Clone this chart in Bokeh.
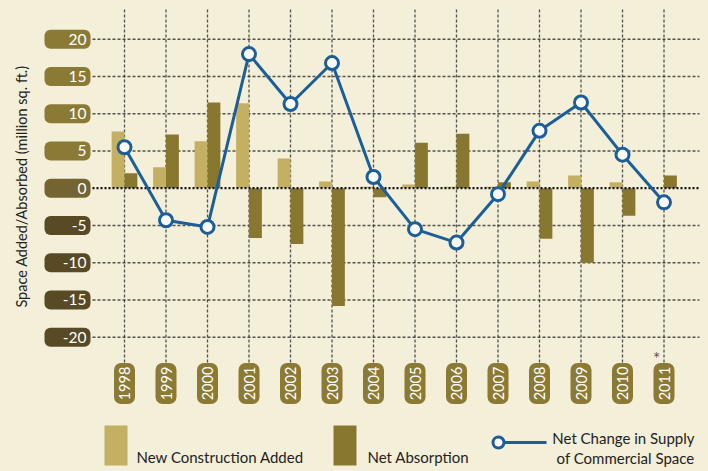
import numpy as np
from bokeh.plotting import figure
from bokeh.models import Range1d
from bokeh.core.properties import value
from bokeh.embed import file_html
from bokeh.resources import INLINE

# ---------------- data ----------------
years = ["1998", "1999", "2000", "2001", "2002", "2003", "2004",
         "2005", "2006", "2007", "2008", "2009", "2010", "2011"]
new_construction = [7.6, 2.8, 6.3, 11.4, 4.0, 0.9, 0.2, 0.5, 0.2, 0.2, 0.9, 1.7, 0.8, 0.0]
net_absorption = [2.0, 7.2, 11.5, -6.7, -7.5, -15.8, -1.2, 6.1, 7.3, 0.8, -6.8, -10.0, -3.7, 1.7]
net_change = [5.5, -4.3, -5.2, 18.0, 11.3, 16.8, 1.5, -5.5, -7.3, -0.8, 7.7, 11.5, 4.5, -1.9]
y_ticks = [20, 15, 10, 5, 0, -5, -10, -15, -20]
y_tick_labels = ["20", "15", "10", "5", "0", "-5", "-10", "-15", "-20"]

# ---------------- style ----------------
BG = "#F4EFD9"
LIGHT = "#C4B063"
DARK = "#88782F"
BLUE = "#1C5E97"
BOX_POS = "#8B7A36"
BOX_ZERO = "#736431"
BOX_NEG = "#574A25"
YEAR_BOX = "#8B7A33"
FONT = value("Lato")

W, H = 708, 471
ORIG = 0  # page offset of the figure
# pixel geometry (page pixels) -> data mapping
X0_PX, DX_PX = 124.0, 41.5      # x pixel of first year, spacing
Y0_PX, DY_PX = 187.7, 7.45      # y pixel of zero, px per unit


def dx(px):
    return (px - X0_PX) / DX_PX


def dy(py):
    return (Y0_PX - py) / DY_PX


p = figure(width=W, height=H, output_backend="svg", toolbar_location=None,
           x_range=Range1d(dx(ORIG), dx(ORIG + W)), y_range=Range1d(dy(ORIG + H), dy(ORIG)),
           min_border=0, background_fill_color=BG, border_fill_color=BG)
p.axis.visible = False
p.grid.visible = False
p.outline_line_color = None

n = len(years)
xs = np.arange(n)

# ---------------- grid ----------------
nonzero = [t for t in y_ticks if t != 0]
p.segment(x0=[dx(92)] * len(nonzero), x1=[dx(699)] * len(nonzero), y0=nonzero, y1=nonzero,
          line_color="#2b2b2b", line_width=1.4, line_dash="3 2", line_alpha=0.8)
p.segment(x0=list(xs), x1=list(xs), y0=[dy(9)] * n, y1=[dy(363)] * n,
          line_color="#2b2b2b", line_width=1.3, line_dash="3 2", line_alpha=0.8)

# ---------------- bars ----------------
bw = 0.31
p.vbar(x=xs - bw / 2, top=new_construction, bottom=0, width=bw,
       fill_color=LIGHT, line_color=None)
p.vbar(x=xs + bw / 2, top=net_absorption, bottom=0, width=bw,
       fill_color=DARK, line_color=None)

# zero line on top
p.segment(x0=[dx(92)], x1=[dx(699)], y0=[0], y1=[0],
          line_color="#111111", line_width=2.2, line_dash="2 2")

# ---------------- net change line ----------------
p.line(xs, net_change, line_color=BLUE, line_width=3)
p.scatter(xs, net_change, size=13, fill_color="white", line_color=BLUE, line_width=3)

# ---------------- y tick boxes ----------------
box_colors = [BOX_POS if t > 0 else (BOX_ZERO if t == 0 else BOX_NEG) for t in y_ticks]
p.rect(x=[dx(67)] * len(y_ticks), y=y_ticks, width=46, height=19,
       width_units="screen", height_units="screen",
       fill_color=box_colors, line_color=None, border_radius=6)
p.text(x=[dx(86)] * len(y_ticks), y=y_ticks, text=y_tick_labels,
       text_align="right", text_baseline="middle", text_color="white",
       text_font=FONT, text_font_size=value("15.5px"))

# ---------------- year boxes ----------------
p.rect(x=list(xs), y=[dy(383)] * n, width=21, height=41,
       width_units="screen", height_units="screen",
       fill_color=YEAR_BOX, line_color=None, border_radius=7)
p.text(x=list(xs), y=[dy(383)] * n, text=years, angle=np.pi / 2,
       text_align="center", text_baseline="middle", text_color="white",
       text_font=FONT, text_font_size=value("14.5px"))
p.text(x=[dx(656)], y=[dy(358)], text=["*"], text_align="center", text_baseline="middle",
       text_color="#555555", text_font=FONT, text_font_size=value("17px"))

# ---------------- y title ----------------
p.text(x=[dx(21)], y=[dy(186)], text=["Space Added/Absorbed (million sq. ft.)"],
       angle=np.pi / 2, text_align="center", text_baseline="middle",
       text_color="#222222", text_font=FONT, text_font_size=value("14.5px"))

# ---------------- legend ----------------
p.quad(left=[dx(104)], right=[dx(127)], top=[dy(425)], bottom=[dy(465)],
       fill_color=LIGHT, line_color=None)
p.text(x=[dx(136)], y=[dy(456)], text=["New Construction Added"],
       text_align="left", text_baseline="middle", text_color="#222222",
       text_font=FONT, text_font_size=value("15px"))
p.quad(left=[dx(333)], right=[dx(356)], top=[dy(425)], bottom=[dy(465)],
       fill_color=DARK, line_color=None)
p.text(x=[dx(367)], y=[dy(456)], text=["Net Absorption"],
       text_align="left", text_baseline="middle", text_color="#222222",
       text_font=FONT, text_font_size=value("15px"))
p.segment(x0=[dx(497)], x1=[dx(546)], y0=[dy(442)], y1=[dy(442)],
          line_color=BLUE, line_width=3)
p.scatter([dx(498)], [dy(442)], size=11, fill_color="white", line_color=BLUE, line_width=3)
p.text(x=[dx(694), dx(694)], y=[dy(437), dy(457)],
       text=["Net Change in Supply", "of Commercial Space"],
       text_align="right", text_baseline="middle", text_color="#222222",
       text_font=FONT, text_font_size=value("15px"))

template = """{% block preamble %}<style>html, body { background-color: #F4EFD9; }</style>{% endblock %}"""
open("out.html", "w").write(file_html(p, INLINE, template=template))
